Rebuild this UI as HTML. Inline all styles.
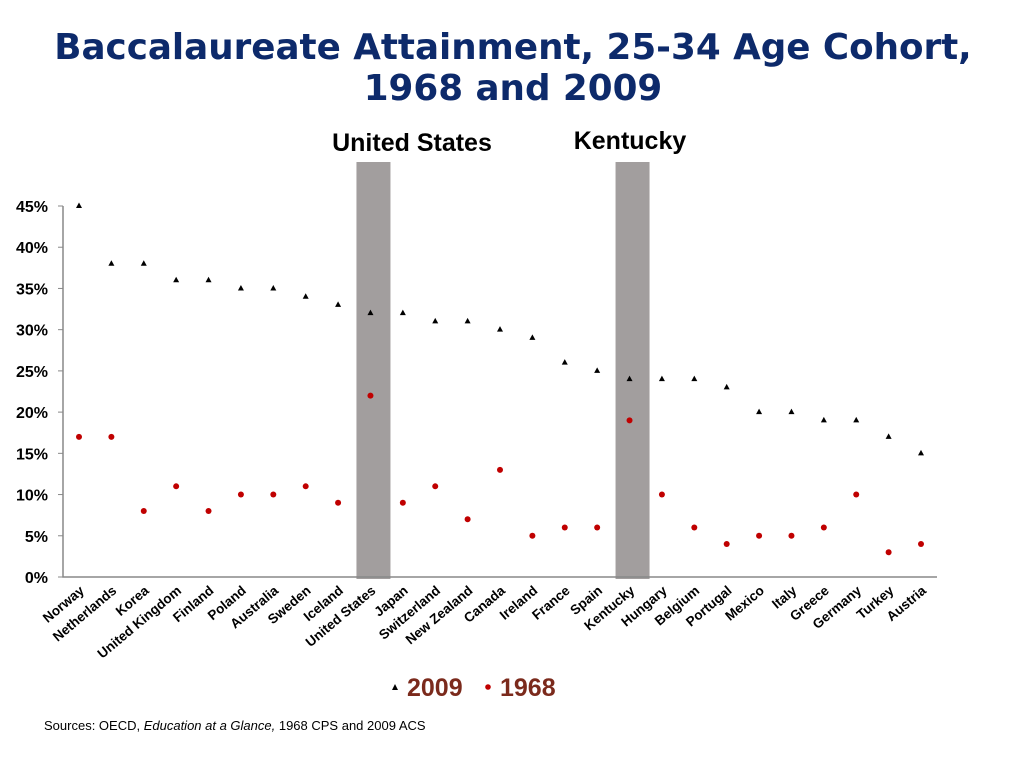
<!DOCTYPE html>
<html><head><meta charset="utf-8"><style>
body{margin:0;background:#fff;width:1024px;height:768px;overflow:hidden;font-family:"Liberation Sans",sans-serif}
</style></head><body>
<svg id="c" width="1024" height="768" xmlns="http://www.w3.org/2000/svg">
<text x="513" y="59" text-anchor="middle" font-size="35.7" font-weight="bold" fill="#0d2a6b" font-family="DejaVu Sans, sans-serif">Baccalaureate Attainment, 25-34 Age Cohort,</text>
<text x="513" y="100" text-anchor="middle" font-size="35.7" font-weight="bold" fill="#0d2a6b" font-family="DejaVu Sans, sans-serif">1968 and 2009</text>
<text x="412" y="151" text-anchor="middle" font-size="25" font-weight="bold" fill="#000">United States</text>
<text x="630" y="149" text-anchor="middle" font-size="25" font-weight="bold" fill="#000">Kentucky</text>
<g id="plot"></g>
<g>
<polygon points="395,684 398,690 392,690" fill="#000"/>
<text x="407" y="696" font-size="25" font-weight="bold" fill="#7b2a1c">2009</text>
<circle cx="488" cy="687" r="2.8" fill="#c00000"/>
<text x="500" y="696" font-size="25" font-weight="bold" fill="#7b2a1c">1968</text>
</g>
<text x="44" y="730" font-size="13" fill="#000">Sources: OECD, <tspan font-style="italic">Education at a Glance,</tspan> 1968 CPS and 2009 ACS</text>
</svg>
<script>
const categories=["Norway","Netherlands","Korea","United Kingdom","Finland","Poland","Australia","Sweden","Iceland","United States","Japan","Switzerland","New Zealand","Canada","Ireland","France","Spain","Kentucky","Hungary","Belgium","Portugal","Mexico","Italy","Greece","Germany","Turkey","Austria"];
const values2009=[45,38,38,36,36,35,35,34,33,32,32,31,31,30,29,26,25,24,24,24,23,20,20,19,19,17,15];
const values1968=[17,17,8,11,8,10,10,11,9,22,9,11,7,13,5,6,6,19,10,6,4,5,5,6,10,3,4];
const yTicks=[0,5,10,15,20,25,30,35,40,45];
const highlighted=["United States","Kentucky"];
const NS="http://www.w3.org/2000/svg";
const g=document.getElementById('plot');
const x=i=>79+i*(921-79)/(categories.length-1);
const y=v=>577-v*(577-206)/45;
function mk(t,a){const e=document.createElementNS(NS,t);for(const k in a)e.setAttribute(k,a[k]);g.appendChild(e);return e;}
highlighted.forEach(h=>{const i=categories.indexOf(h);
 const r=mk('rect',{x:x(i)-14,y:162,width:34,height:417,fill:'#a29e9e'});
 
 });
const ax=mk('path',{d:'M63,206V577H937',stroke:'#888',fill:'none','stroke-width':1.5});


yTicks.forEach(v=>{mk('line',{x1:58,x2:63,y1:y(v),y2:y(v),stroke:'#888'});
 const t=mk('text',{x:48,y:y(v)+6,'text-anchor':'end','font-size':16,'font-weight':'bold'});t.textContent=v+'%';
 
 });
categories.forEach((c,i)=>{
 const t=mk('text',{'text-anchor':'end','font-size':13.5,'font-weight':'bold',transform:`translate(${x(i)+6},592) rotate(-40)`});t.textContent=c;
 
 
 const X=x(i),Y=y(values2009[i]);
 const p=mk('polygon',{points:`${X},${Y-3.5} ${X+3},${Y+2} ${X-3},${Y+2}`,fill:'#000'});
 
 
 const d=mk('circle',{cx:X,cy:y(values1968[i]),r:3,fill:'#c00000'});
 
 
});
</script>
</body></html>
